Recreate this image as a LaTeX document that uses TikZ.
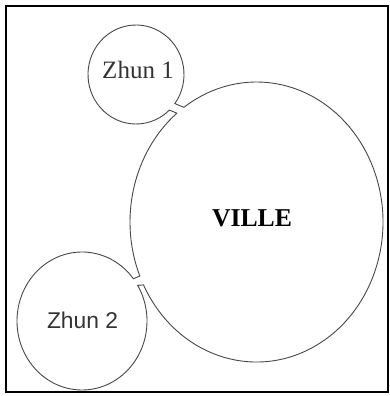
\documentclass[tikz,border=0pt]{standalone}
\usepackage{fontspec}
\setmainfont{Liberation Serif}
\newfontfamily\sansf{Liberation Sans}
\begin{document}
\begin{tikzpicture}[x=1pt,y=1pt,
  wall/.style={draw=black!72, line width=0.9pt, line join=miter},
  frame/.style={draw=black, line width=2pt},
  zlabel/.style={anchor=base, text=black!80, inner sep=0pt}]
\useasboundingbox (0,0) rectangle (389,396);
\draw[frame] (6,4) rectangle (388,390);
% centres
\coordinate (vc) at (256.5,174);
\coordinate (z1c) at (136,321.5);
\coordinate (z2c) at (82,75);
% junction end points
\path (vc) ++(125:126.5 and 140) coordinate (v1);
\path (vc) ++(129:126.5 and 140) coordinate (v2);
\path (vc) ++(202.7:126.5 and 140) coordinate (v3);
\path (vc) ++(206.7:126.5 and 140) coordinate (v4);
\path (z1c) ++(-36:48 and 49.5) coordinate (z1a);
\path (z1c) ++(-46:48 and 49.5) coordinate (z1b);
\path (z2c) ++(37.8:65 and 69) coordinate (z2a);
\path (z2c) ++(31.2:65 and 69) coordinate (z2b);
% outline
\draw[wall] (v4) arc[start angle=206.7, end angle=485, x radius=126.5, y radius=140]
  -- (z1a) arc[start angle=-36, end angle=314, x radius=48, y radius=49.5]
  -- (v2) arc[start angle=129, end angle=202.7, x radius=126.5, y radius=140]
  -- (z2a) arc[start angle=37.8, end angle=391.2, x radius=65, y radius=69]
  -- cycle;
% labels
\node[zlabel, font=\fontsize{25}{25}\selectfont] (z1) at (138,317.5) {Zhun 1};
\node[zlabel, font=\sansf\fontsize{22.8}{23}\selectfont] (z2) at (82.5,67.7) {Zhun 2};
\node[anchor=base, inner sep=0pt, font=\bfseries\fontsize{25.7}{26}\selectfont] (v) at (252,169.5) {VILLE};
\end{tikzpicture}
\end{document}
